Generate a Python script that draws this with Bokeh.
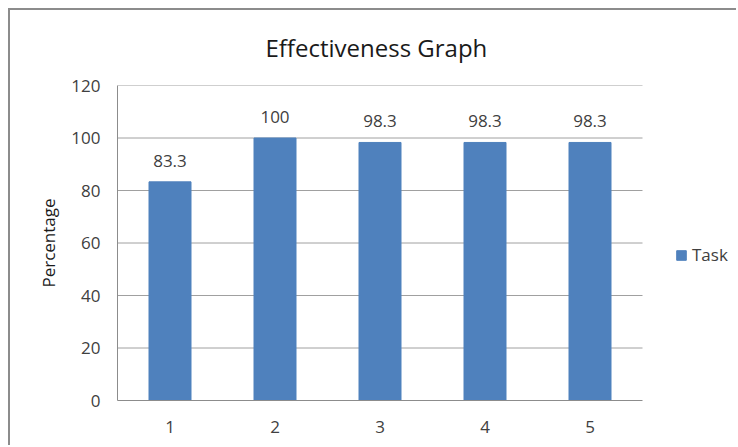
from bokeh.plotting import figure
from bokeh.models import ColumnDataSource, Range1d, FixedTicker, LabelSet, Legend, LegendItem
from bokeh.core.properties import value
from bokeh.embed import file_html
from bokeh.resources import INLINE

categories = [1, 2, 3, 4, 5]
task_values = [83.3, 100, 98.3, 98.3, 98.3]
value_labels = [f"{v:g}" for v in task_values]
series_name = "Task"
y_ticks = [0, 20, 40, 60, 80, 100, 120]

FONT = "Open Sans"
TEXT = "#404040"

W, H = 728, 437
LEFT, TOP, BOTTOM = 107, 74, 47
CAT_PX = 105  # pixel width of one category slot
frame_w = W - LEFT
x_lo = categories[0] - 0.5
x_hi_cat = categories[-1] + 0.5

src = ColumnDataSource(dict(x=categories, y=task_values, lab=value_labels))
grid_src = ColumnDataSource(dict(y=y_ticks[1:], x0=[x_lo] * (len(y_ticks) - 1), x1=[x_hi_cat] * (len(y_ticks) - 1)))

p = figure(width=W, height=H, output_backend="svg", toolbar_location=None,
           x_range=Range1d(x_lo, x_lo + frame_w / CAT_PX),
           y_range=Range1d(0, 120),
           title="Effectiveness Graph",
           min_border_left=LEFT, min_border_right=0, min_border_top=TOP, min_border_bottom=BOTTOM)
p.styles = {"margin-left": "8px", "margin-top": "8px",
            "border-top": "2px solid #8c8c8c", "border-left": "2px solid #8c8c8c"}

p.segment(x0="x0", x1="x1", y0="y", y1="y", source=grid_src, line_color="#A0A0A0", line_width=1)
r = p.vbar(x="x", top="y", width=0.4, source=src, fill_color="#4F81BD", line_color="#4F81BD")

p.title.text_font = FONT
p.title.text_font_size = "24px"
p.title.text_font_style = "normal"
p.title.text_color = "#1a1a1a"
p.title.align = "left"
p.title.vertical_align = "top"
p.title.offset = 148
p.title.standoff = 40

p.outline_line_color = None
p.xgrid.grid_line_color = None
p.ygrid.grid_line_color = None
p.yaxis.ticker = FixedTicker(ticks=y_ticks)
p.xaxis.ticker = FixedTicker(ticks=categories)
p.xaxis.bounds = (x_lo, x_hi_cat)

for ax in (p.xaxis, p.yaxis):
    ax.axis_line_color = "#8c8c8c"
    ax.major_tick_line_color = None
    ax.minor_tick_line_color = None
    ax.major_tick_out = 0
    ax.major_tick_in = 0
    ax.major_label_text_font = FONT
    ax.major_label_text_font_size = "17px"
    ax.major_label_text_color = TEXT

p.yaxis.major_label_standoff = 17
p.xaxis.major_label_standoff = 20
p.yaxis.axis_label = "Percentage"
p.yaxis.axis_label_text_font = FONT
p.yaxis.axis_label_text_font_size = "17px"
p.yaxis.axis_label_text_font_style = "normal"
p.yaxis.axis_label_text_color = "#1a1a1a"
p.yaxis.axis_label_standoff = 8

labels = LabelSet(x="x", y="y", text="lab", source=src, text_align="center", text_baseline="alphabetic",
                  y_offset=15, text_font=value(FONT), text_font_size=value("17px"), text_color=TEXT)
p.add_layout(labels)

legend = Legend(items=[LegendItem(label=series_name, renderers=[r])], location=(558, 134),
                padding=0, margin=0, glyph_width=12, glyph_height=12, label_standoff=5,
                label_text_font=FONT, label_text_font_size="17px", label_text_color=TEXT,
                border_line_color=None, background_fill_alpha=0)
p.add_layout(legend)

open("out.html", "w").write(file_html(p, INLINE))
